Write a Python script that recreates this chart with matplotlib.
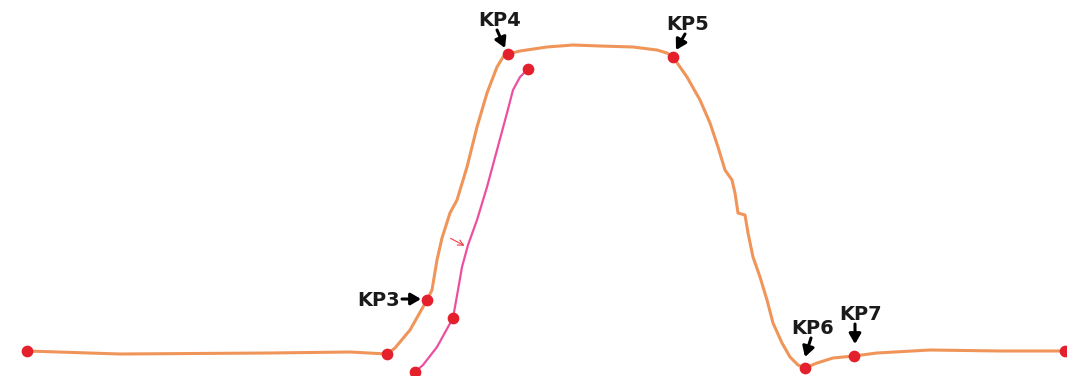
import matplotlib.pyplot as plt

# Main profile (orange) in pixel units
orange_x = [27, 120, 270, 350, 387, 395, 410, 427, 432, 437, 442, 450, 457, 467, 477, 487, 497, 503, 508,
            520, 547, 573, 600, 633, 657, 667, 673, 687, 700, 710, 718, 725, 732, 735, 738, 745, 748, 753,
            760, 767, 773, 782, 790, 798, 805, 817, 833, 854, 877, 930, 1000, 1065]
orange_y = [351, 354, 353, 352, 354, 348, 330, 300, 290, 260, 238, 213, 200, 167, 127, 93, 67, 57, 54,
            51, 47, 45, 46, 47, 50, 53, 57, 77, 100, 123, 147, 170, 180, 193, 213, 215, 233, 257,
            277, 300, 323, 343, 357, 365, 368, 363, 358, 356, 353, 350, 351, 351]
orange_dots = [0, 4, 7, 18, 26, 44, 47, 51]

# Shifted segment (pink)
pink_x = [415, 423, 437, 453, 458, 462, 468, 477, 487, 497, 507, 513, 520, 528]
pink_y = [372, 365, 347, 318, 290, 267, 245, 220, 187, 150, 113, 90, 77, 69]
pink_dots = [0, 3, 13]

# Key point labels: text position and arrow
labels = ['KP3', 'KP4', 'KP5', 'KP6', 'KP7']
label_xy = [(379, 300), (500, 21), (688, 24), (813, 329), (861, 315)]
arrow_from = [(402, 299), (497, 30), (685, 34), (811, 338), (855, 324)]
arrow_to = [(421, 299), (505, 48), (676, 50), (805, 357), (855, 344)]

fig = plt.figure(figsize=(10.67, 3.76), dpi=100)
ax = fig.add_axes([0, 0, 1, 1])
ax.set_xlim(0, 1067)
ax.set_ylim(376, 0)
ax.axis('off')

ax.plot(orange_x, orange_y, color='#F0955A', lw=2.2, zorder=2)
ax.plot(pink_x, pink_y, color='#EC4FA0', lw=1.6, zorder=2)
ax.scatter([orange_x[i] for i in orange_dots], [orange_y[i] for i in orange_dots],
           s=55, color='#E3202B', zorder=3)
ax.scatter([pink_x[i] for i in pink_dots], [pink_y[i] for i in pink_dots],
           s=55, color='#E3202B', zorder=3)

# small red shift arrow
ax.annotate('', xy=(467, 247), xytext=(448, 237),
            arrowprops=dict(arrowstyle='->', color='#E8404A', lw=0.8))

for lab, txy, a0, a1 in zip(labels, label_xy, arrow_from, arrow_to):
    ax.text(txy[0], txy[1], lab, fontsize=14, fontweight='bold', color='#1a1a1a',
            ha='center', va='center')
    ax.annotate('', xy=a1, xytext=a0,
                arrowprops=dict(arrowstyle='-|>,head_width=0.35,head_length=0.6',
                                color='black', lw=2.2, shrinkA=0, shrinkB=0))

plt.savefig('out.png', dpi=100)
